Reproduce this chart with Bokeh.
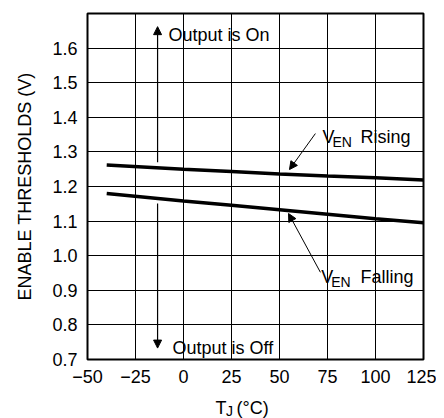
from bokeh.plotting import figure
from bokeh.layouts import column
from bokeh.models import Label, Arrow, NormalHead, FixedTicker, PrintfTickFormatter, Range1d
from bokeh.embed import file_html
from bokeh.resources import INLINE

# ---- data ----
temps = [-40, 0, 25, 50, 75, 100, 125]
v_rising = [1.262, 1.250, 1.243, 1.236, 1.230, 1.225, 1.219]
v_falling = [1.180, 1.158, 1.146, 1.133, 1.120, 1.107, 1.095]
x_ticks = [-50, -25, 0, 25, 50, 75, 100, 125]
y_ticks = [0.7, 0.8, 0.9, 1.0, 1.1, 1.2, 1.3, 1.4, 1.5, 1.6]
y_grid = [0.7, 0.8, 0.9, 1.0, 1.1, 1.2, 1.3, 1.4, 1.5, 1.6, 1.7]

FONT = "Liberation Sans"

xr = Range1d(-50, 125)
p = figure(width=436, height=390, x_range=xr, y_range=Range1d(0.7, 1.7),
           output_backend="svg", toolbar_location=None,
           min_border_left=87, min_border_right=13, min_border_top=13, min_border_bottom=31)

p.outline_line_color = "black"
p.outline_line_width = 2
p.background_fill_color = "white"
p.border_fill_color = "white"

p.xaxis.ticker = FixedTicker(ticks=x_ticks)
p.yaxis.ticker = FixedTicker(ticks=y_ticks)
p.yaxis.formatter = PrintfTickFormatter(format="%.1f")
p.xgrid.ticker = FixedTicker(ticks=x_ticks)
p.ygrid.ticker = FixedTicker(ticks=y_grid)
for ax in (p.xaxis, p.yaxis):
    ax.axis_line_color = None
    ax.major_tick_line_color = None
    ax.minor_tick_line_color = None
    ax.major_tick_out = 0
    ax.major_tick_in = 0
    ax.major_label_text_font = FONT
    ax.major_label_text_font_size = "18px"
    ax.major_label_text_color = "black"
p.xaxis.major_label_standoff = 10
p.yaxis.major_label_standoff = 10
p.yaxis.axis_label = "ENABLE THRESHOLDS (V)"
p.yaxis.axis_label_text_font = FONT
p.yaxis.axis_label_text_font_size = "18px"
p.yaxis.axis_label_text_font_style = "normal"
p.yaxis.axis_label_text_color = "black"
p.yaxis.axis_label_standoff = 14

for g in (p.xgrid, p.ygrid):
    g.grid_line_color = "black"
    g.grid_line_alpha = 1.0
    g.grid_line_width = 1

p.line(temps, v_rising, line_color="black", line_width=3.5)
p.line(temps, v_falling, line_color="black", line_width=3.5)

def head():
    return NormalHead(size=8, fill_color="black", line_color="black", line_width=1)

# Output is On / Off arrows
p.add_layout(Arrow(x_start=-13.5, y_start=1.27, x_end=-13.5, y_end=1.662, end=head(),
                   line_color="black", line_width=1.2))
p.add_layout(Arrow(x_start=-13.5, y_start=1.151, x_end=-13.5, y_end=0.733, end=head(),
                   line_color="black", line_width=1.2))
# pointer arrows
p.add_layout(Arrow(x_start=68.7, y_start=1.353, x_end=55.2, y_end=1.249, end=head(),
                   line_color="black", line_width=1))
p.add_layout(Arrow(x_start=71.3, y_start=0.952, x_end=54.7, y_end=1.122, end=head(),
                   line_color="black", line_width=1))

def lab(fig, x, y, text, size="18px"):
    fig.add_layout(Label(x=x, y=y, text=text, text_font=FONT, text_font_size=size,
                         text_color="black", text_baseline="alphabetic", text_align="left"))

lab(p, -7.8, 1.637, "Output is On")
lab(p, -5.7, 0.734, "Output is Off")

lab(p, 72.4, 1.3427, "V")
lab(p, 77.6, 1.328, "EN", size="14px")
lab(p, 92.2, 1.3427, "Rising")

lab(p, 71.7, 0.938, "V")
lab(p, 76.9, 0.9235, "EN", size="14px")
lab(p, 92.2, 0.938, "Falling")

# x-axis title strip (T_J (°C)) below the plot; shares the plot's x range
p2 = figure(width=436, height=28, x_range=xr, y_range=Range1d(0, 28),
            output_backend="svg", toolbar_location=None,
            min_border_left=87, min_border_right=13, min_border_top=0, min_border_bottom=0)
p2.axis.visible = False
p2.grid.visible = False
p2.outline_line_color = None
p2.background_fill_color = "white"
p2.border_fill_color = "white"
lab(p2, 16.7, 11, "T")
lab(p2, 22.2, 7.5, "J", size="14px")
lab(p2, 27.6, 11, "(°C)")

layout = column(p, p2, spacing=0)
open("out.html", "w").write(file_html(layout, INLINE))
